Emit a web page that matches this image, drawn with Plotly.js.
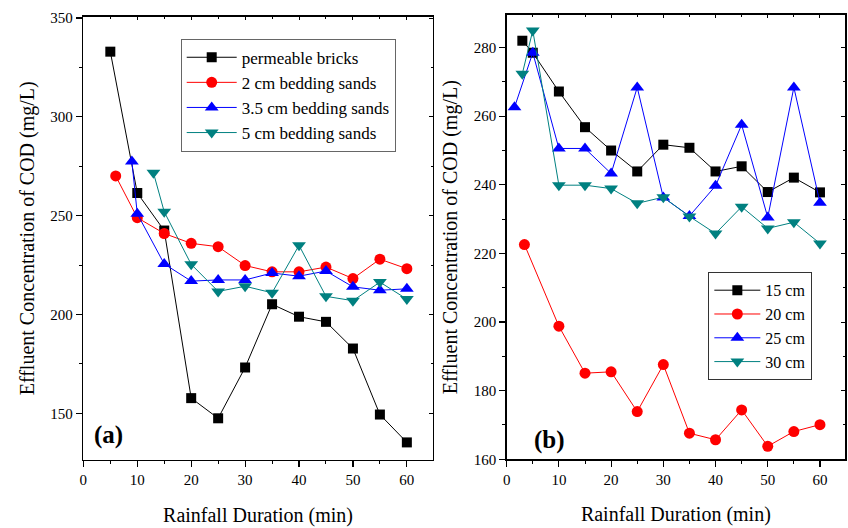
<!DOCTYPE html>
<html>
<head>
<meta charset="utf-8">
<script src="https://cdn.plot.ly/plotly-3.0.1.min.js"></script>
<style>html,body{margin:0;padding:0;background:#fff;}#chart{width:848px;height:528px;}</style>
</head>
<body>
<div id="chart"></div>
<script>
// ---- Panel (a) data ----
const xBricks = [5, 10, 15, 20, 25, 30, 35, 40, 45, 50, 55, 60];
const bricks  = [333, 261.5, 242.5, 157.7, 147.5, 173.2, 205.2, 198.9, 196.3, 182.8, 149.4, 135.3];
const xSand2  = [6, 10, 15, 20, 25, 30, 35, 40, 45, 50, 55, 60];
const sand2   = [270.1, 249, 241, 236, 234.3, 224.8, 221.6, 221.6, 224, 218.2, 228, 223.2];
const xSand35 = [9, 10, 15, 20, 25, 30, 35, 40, 45, 50, 55, 60];
const sand35  = [277.4, 251, 225.6, 216.9, 217.5, 217.5, 221, 219.4, 222, 214, 212.3, 213];
const xSand5  = [13, 15, 20, 25, 30, 35, 40, 45, 50, 55, 60];
const sand5   = [271.7, 252, 225.4, 211.7, 214.3, 211, 235, 209.2, 207, 216.4, 207.8];
const namesA  = ["permeable bricks", "2 cm bedding sands", "3.5 cm bedding sands", "5 cm bedding sands"];

// ---- Panel (b) data ----
const x15 = [3, 5, 10, 15, 20, 25, 30, 35, 40, 45, 50, 55, 60];
const cm15 = [282, 278.5, 267.2, 256.8, 250, 243.9, 251.7, 250.8, 243.9, 245.4, 237.9, 242.1, 237.8];
const x20 = [3.4, 10, 15, 20, 25, 30, 35, 40, 45, 50, 55, 60];
const cm20 = [222.6, 198.8, 185.1, 185.5, 173.9, 187.6, 167.6, 165.7, 174.4, 163.8, 168.1, 170.1];
const x25 = [1.5, 5, 10, 15, 20, 25, 30, 35, 40, 45, 50, 55, 60];
const cm25 = [262.6, 278.5, 250.6, 250.6, 243.3, 268.4, 236.3, 230.9, 239.7, 257.5, 230.5, 268.4, 234.8];
const x30 = [3, 5, 10, 15, 20, 25, 30, 35, 40, 45, 50, 55, 60];
const cm30 = [272.4, 285, 239.9, 239.9, 238.9, 234.6, 236.4, 230.8, 225.8, 233.6, 227.3, 229.1, 222.9];
const namesB = ["15 cm", "20 cm", "25 cm", "30 cm"];

const xTitle = "Rainfall Duration (min)";
const yTitle = "Effluent Concentration of COD (mg/L)";

const colors = ["#000000", "#ff0000", "#0000ff", "#008080"];
const symbols = ["square", "circle", "triangle-up", "triangle-down"];
const sizes = [10, 11, 12, 12];
const FONT = "Liberation Serif";

function tr(x, y, i, name, xa, ya, leg) {
  return {
    x: x, y: y, name: name, type: "scatter", mode: "lines+markers",
    xaxis: xa, yaxis: ya, legend: leg,
    line: {color: colors[i], width: 1},
    marker: {color: colors[i], symbol: symbols[i], size: sizes[i], line: {width: 0}},
    cliponaxis: false
  };
}

const data = [
  tr(xBricks, bricks, 0, namesA[0], "x", "y", "legend"),
  tr(xSand2, sand2, 1, namesA[1], "x", "y", "legend"),
  tr(xSand35, sand35, 2, namesA[2], "x", "y", "legend"),
  tr(xSand5, sand5, 3, namesA[3], "x", "y", "legend"),
  tr(x15, cm15, 0, namesB[0], "x2", "y2", "legend2"),
  tr(x20, cm20, 1, namesB[1], "x2", "y2", "legend2"),
  tr(x25, cm25, 2, namesB[2], "x2", "y2", "legend2"),
  tr(x30, cm30, 3, namesB[3], "x2", "y2", "legend2"),
  // empty helper traces so the mirrored inner-tick axes are drawn
  {x: [], y: [], xaxis: "x3", yaxis: "y", showlegend: false, type: "scatter", mode: "lines"},
  {x: [], y: [], xaxis: "x", yaxis: "y3", showlegend: false, type: "scatter", mode: "lines"},
  {x: [], y: [], xaxis: "x4", yaxis: "y2", showlegend: false, type: "scatter", mode: "lines"},
  {x: [], y: [], xaxis: "x2", yaxis: "y4", showlegend: false, type: "scatter", mode: "lines"}
];

const tickFont = {family: FONT, size: 15, color: "#000"};
const titleFont = {family: FONT, size: 20, color: "#000"};

function xAxis(domain, range, anchor) {
  return {
    domain: domain, range: range, anchor: anchor, autorange: false,
    showgrid: false, zeroline: false,
    showline: true, linecolor: "#000", linewidth: 1.5, mirror: true,
    ticks: "outside", ticklen: 6, tickwidth: 1.2, tickcolor: "#000",
    tick0: 0, dtick: 10, tickfont: tickFont,
    minor: {ticks: "outside", ticklen: 3, tickwidth: 1, tickcolor: "#000", dtick: 5},
    title: {text: xTitle, font: titleFont, standoff: 20}
  };
}
function yAxis(domain, range, anchor, dtick, mdtick, standoff) {
  return {
    domain: domain, range: range, anchor: anchor, autorange: false,
    showgrid: false, zeroline: false,
    showline: true, linecolor: "#000", linewidth: 1.5, mirror: true,
    ticks: "outside", ticklen: 6, tickwidth: 1.2, tickcolor: "#000",
    tick0: 0, dtick: dtick, tickfont: tickFont,
    minor: {ticks: "outside", ticklen: 3, tickwidth: 1, tickcolor: "#000", dtick: mdtick},
    title: {text: yTitle, font: titleFont, standoff: standoff}
  };
}
function innerX(overlay, range, anchor) {
  return {overlaying: overlay, side: "top", anchor: anchor, range: range, autorange: false,
    showgrid: false, zeroline: false, showline: false, showticklabels: false,
    ticks: "inside", ticklen: 3, tickcolor: "#000", tick0: 0, dtick: 10,
    minor: {ticks: "inside", ticklen: 2, tickcolor: "#000", dtick: 5}};
}
function innerY(overlay, range, anchor, dtick, mdtick) {
  return {overlaying: overlay, side: "right", anchor: anchor, range: range, autorange: false,
    showgrid: false, zeroline: false, showline: false, showticklabels: false,
    ticks: "inside", ticklen: 4, tickcolor: "#000", tick0: 0, dtick: dtick,
    minor: {ticks: "inside", ticklen: 2, tickcolor: "#000", dtick: mdtick}};
}

const rangeXA = [0, 64.8], rangeYA = [126.4, 350.7];
const rangeXB = [0, 64.8], rangeYB = [160, 289.5];

const layout = {
  width: 848, height: 528,
  margin: {l: 0, r: 0, t: 0, b: 0},
  paper_bgcolor: "#fff", plot_bgcolor: "rgba(0,0,0,0)",
  font: {family: FONT, color: "#000"},
  xaxis: xAxis([0.0983, 0.5103], rangeXA, "y"),
  yaxis: yAxis([0.1288, 0.9684], rangeYA, "x", 50, 25, 10),
  xaxis2: xAxis([0.5975, 0.9965], rangeXB, "y2"),
  yaxis2: yAxis([0.1301, 0.9716], rangeYB, "x2", 20, 10, 10),
  xaxis3: innerX("x", rangeXA, "y"),
  yaxis3: innerY("y", rangeYA, "x", 50, 25),
  xaxis4: innerX("x2", rangeXB, "y2"),
  yaxis4: innerY("y2", rangeYB, "x2", 20, 10),
  legend: {
    x: 0.2131, y: 0.9267, xanchor: "left", yanchor: "top",
    bgcolor: "#fff", bordercolor: "#666", borderwidth: 1,
    font: {family: FONT, size: 17, color: "#000"},
    itemwidth: 50, tracegroupgap: 0
  },
  legend2: {
    x: 0.8353, y: 0.4843, xanchor: "left", yanchor: "top",
    bgcolor: "#fff", bordercolor: "#333", borderwidth: 1,
    font: {family: FONT, size: 16, color: "#000"},
    itemwidth: 46, tracegroupgap: 0
  },
  annotations: [
    {text: "<b>(a)</b>", xref: "paper", yref: "paper", x: 0.1285, y: 0.176,
     xanchor: "center", yanchor: "middle", showarrow: false,
     font: {family: FONT, size: 25, color: "#000"}},
    {text: "<b>(b)</b>", xref: "paper", yref: "paper", x: 0.6475, y: 0.167,
     xanchor: "center", yanchor: "middle", showarrow: false,
     font: {family: FONT, size: 25, color: "#000"}}
  ],
  showlegend: true
};

Plotly.newPlot("chart", data, layout, {displayModeBar: false, staticPlot: true});
</script>
</body>
</html>
